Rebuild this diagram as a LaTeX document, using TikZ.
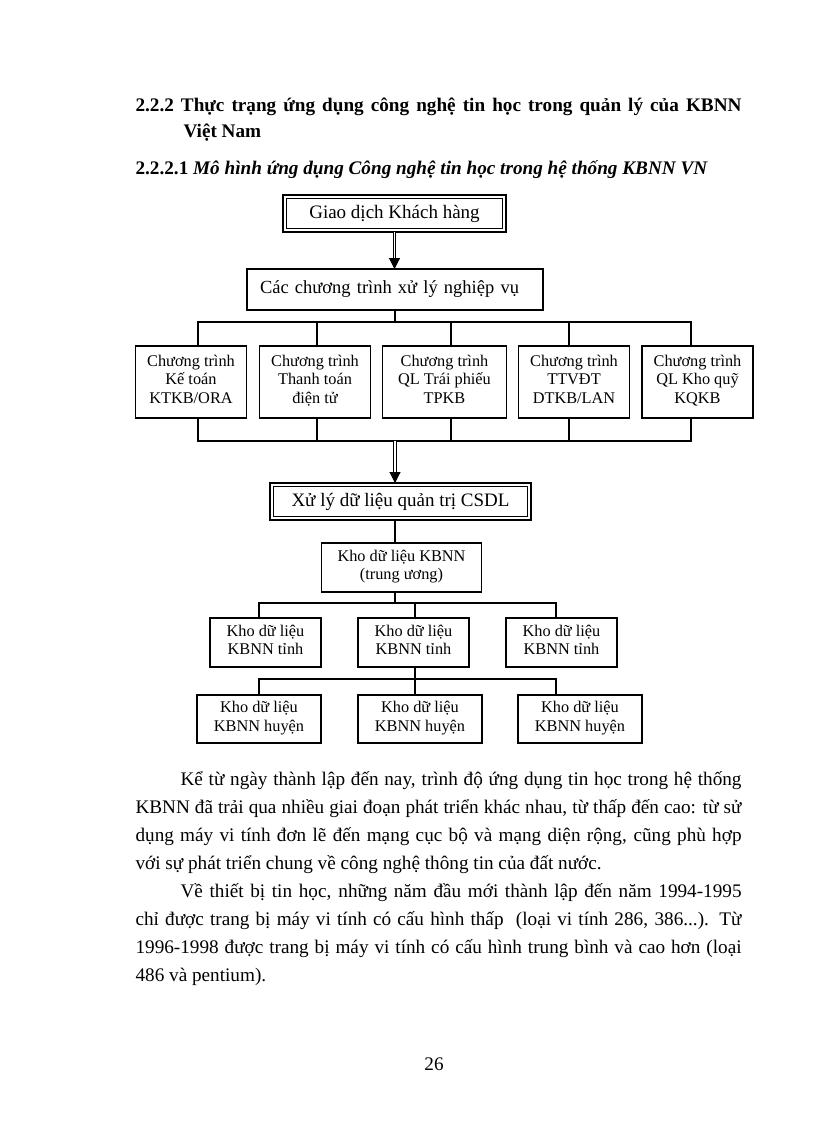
\documentclass[tikz,border=0pt]{standalone}
\usepackage{fontspec}
\setmainfont{Liberation Serif}
\usetikzlibrary{arrows.meta}
\hyphenpenalty=10000
\exhyphenpenalty=10000
\newcommand{\headtxt}{\fontsize{19.2}{26}\selectfont\bfseries}
\newcommand{\bodytxt}{\fontsize{19.2}{28}\selectfont}
\newcommand{\boxtxt}{\fontsize{19}{22}\selectfont}
\newcommand{\smalltxt}{\fontsize{16.3}{18.3}\selectfont}
\tikzset{
  prog/.style={draw, font=\smalltxt, align=center, minimum width=111pt, minimum height=72pt, inner sep=1pt,
    execute at end node=\strut},
  kho/.style={draw, font=\smalltxt, align=center, minimum width=111pt, minimum height=49pt, inner sep=1pt,
    execute at end node=\strut},
  dblbox/.style={draw, line width=2pt, outer sep=0pt, font=\boxtxt},
  dblarrow/.style={double, double distance=1.6pt, line width=1.1pt, -{Triangle[width=11pt,length=11pt]}},
  para/.style={anchor=base west, text width=606pt, align=justify, inner sep=0pt, font=\bodytxt}
}

\begin{document}
\begin{tikzpicture}[x=1pt, y=-1pt, line width=1.1pt]
\useasboundingbox (0,0) rectangle (816,1123);
% headings
\node[anchor=base west, text width=606pt, align=justify, inner sep=0pt, font=\headtxt] (h1) at (135,112)
  {2.2.2 Thực trạng ứng dụng công nghệ tin học trong quản lý của KBNN\linebreak\hspace*{48pt}Việt Nam};
\node[anchor=base west, inner sep=0pt, font=\headtxt] (h2) at (135,175)
  {2.2.2.1 \textit{Mô hình ứng dụng Công nghệ tin học trong hệ thống KBNN VN}};

% boxes
\node[dblbox, minimum width=223pt, minimum height=37pt] (gd) at (394.5,213.5) {Giao dịch Khách hàng};
\node[draw, line width=2.2pt, outer sep=0pt, font=\fontsize{18.5}{22}\selectfont, text width=270pt, inner xsep=13pt,
  minimum height=41pt, align=left] (cct) at (395,289.5) {Các chương trình xử lý nghiệp vụ};
\node[prog] (p1) at (191,382) {Chương trình\\Kế toán\\KTKB/ORA};
\node[prog] (p2) at (315,382) {Chương trình\\Thanh toán\\điện tử};
\node[prog, minimum width=124pt] (p3) at (444.5,382) {Chương trình\\QL Trái phiếu\\TPKB};
\node[prog] (p4) at (574,382) {Chương trình\\TTVĐT\\DTKB/LAN};
\node[prog] (p5) at (697.5,382) {Chương trình\\QL Kho quỹ\\KQKB};
\node[dblbox, minimum width=261pt, minimum height=37pt] (xl) at (400.5,501.5) {Xử lý dữ liệu quản trị CSDL};
\node[kho, minimum width=160pt] (tw) at (401.5,567.5) {Kho dữ liệu KBNN\\(trung ương)};
\node[kho] (t1) at (265.5,642.5) {Kho dữ liệu\\KBNN tỉnh};
\node[kho] (t2) at (413.5,642.5) {Kho dữ liệu\\KBNN tỉnh};
\node[kho] (t3) at (561.5,642.5) {Kho dữ liệu\\KBNN tỉnh};
\node[kho, minimum width=124pt, minimum height=48pt] (u1) at (259,719) {Kho dữ liệu\\KBNN huyện};
\node[kho, minimum width=124pt, minimum height=48pt] (u2) at (420,719) {Kho dữ liệu\\KBNN huyện};
\node[kho, minimum width=124pt, minimum height=48pt] (u3) at (580,719) {Kho dữ liệu\\KBNN huyện};
\foreach \n in {gd,xl}
  \draw[line width=0.7pt] ([shift={(3.5pt,-3.5pt)}]\n.north west) rectangle ([shift={(-3.5pt,3.5pt)}]\n.south east);

% connectors
\coordinate (bt) at (395,322);
\coordinate (bb) at (395,441);
\coordinate (b3) at (395,603);
\coordinate (b4) at (415,679);
\coordinate (x1) at (198,0);
\coordinate (x2) at (317,0);
\coordinate (x3) at (451,0);
\coordinate (x4) at (569,0);
\coordinate (x5) at (691,0);
\coordinate (dl) at (259,0);
\coordinate (dm) at (415,0);
\coordinate (dr) at (556,0);
\draw[dblarrow] (gd.south) -- (gd.south |- cct.north);
\draw (cct.south -| bt) -- (bt);
\draw (p1.north -| x1) |- (bt) -| (p5.north -| x5);
\draw (p1.south -| x1) |- (bb) -| (p5.south -| x5);
\foreach \i in {2,3,4} {
  \draw (p\i.north -| x\i) -- (x\i |- bt);
  \draw (p\i.south -| x\i) -- (x\i |- bb);
}
\draw[dblarrow] (bb) -- (bb |- xl.north);
\draw (xl.south -| bb) -- (tw.north -| bb);
\draw (tw.south -| b3) -- (b3);
\draw (t1.north -| dl) |- (b3) -| (t3.north -| dr);
\draw (t2.north -| dm) -- (dm |- b3);
\draw (t2.south -| dm) -- (b4);
\draw (u1.north -| dl) |- (b4) -| (u3.north -| dr);
\draw (u2.north -| dm) -- (dm |- b4);

% text
\node[para] (par1) at (135,785) {\hspace*{45pt}Kể từ ngày thành lập đến nay, trình độ ứng dụng tin học trong hệ thống\linebreak
  KBNN đã trải qua nhiều giai đoạn phát triển khác nhau, từ thấp đến cao: từ sử\linebreak
  dụng máy vi tính đơn lẽ đến mạng cục bộ và mạng diện rộng, cũng phù hợp\linebreak
  với sự phát triển chung về công nghệ thông tin của đất nước.};
\node[para] (par2) at (135,897) {\hspace*{45pt}Về thiết bị tin học, những năm đầu mới thành lập đến năm 1994-1995\linebreak
  chỉ được trang bị máy vi tính có cấu hình thấp~ (loại vi tính 286, 386...). Từ\linebreak
  1996-1998 được trang bị máy vi tính có cấu hình trung bình và cao hơn (loại\linebreak
  486 và pentium).};
\node[anchor=base, inner sep=0pt, font=\bodytxt] (pg) at (434,1070) {26};
\end{tikzpicture}
\end{document}
